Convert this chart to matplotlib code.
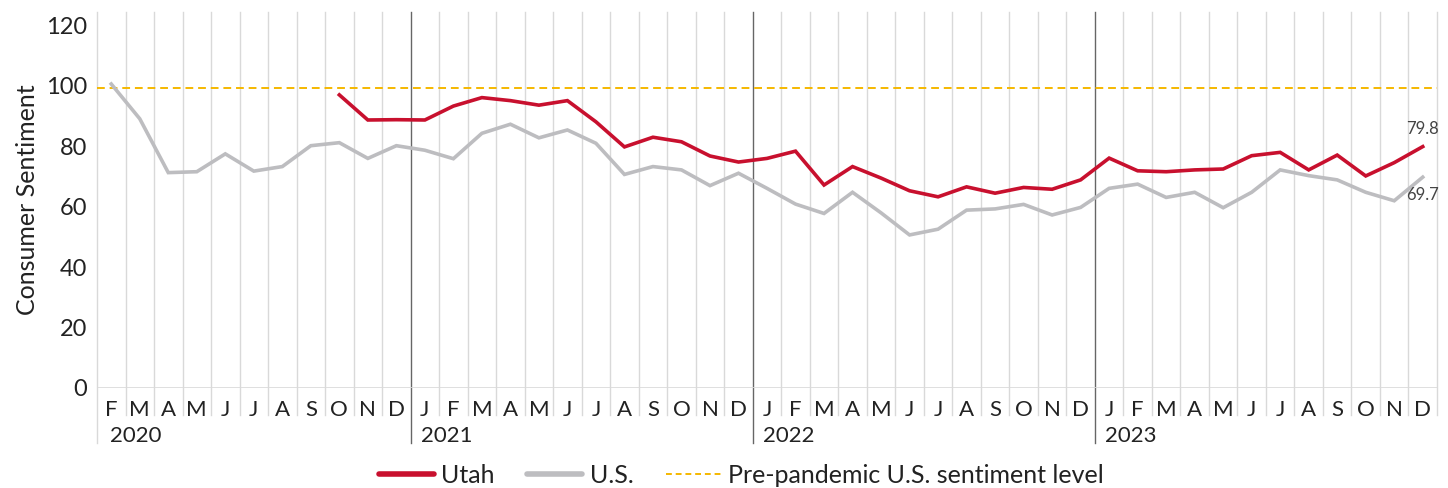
#!/usr/bin/env python3

import matplotlib
matplotlib.use('Agg')
import matplotlib.pyplot as plt
from matplotlib.lines import Line2D
import matplotlib.transforms as mtransforms

plt.rcParams['font.family'] = ['Lato', 'DejaVu Sans']

# Months Feb 2020 .. Dec 2023
months = ['F', 'M', 'A', 'M', 'J', 'J', 'A', 'S', 'O', 'N', 'D'] + \
    ['J', 'F', 'M', 'A', 'M', 'J', 'J', 'A', 'S', 'O', 'N', 'D'] * 3
years = ['2020', '2021', '2022', '2023']
year_start = [0, 11, 23, 35]   # index of first month shown for each year

us = [100.5, 89.0, 71.2, 71.5, 77.4, 71.7, 73.2, 80.1, 81.1, 75.9, 80.1,
      78.6, 75.8, 84.2, 87.2, 82.7, 85.3, 80.9, 70.6, 73.2, 72.1, 66.9, 71.0,
      66.0, 60.8, 57.7, 64.7, 57.9, 50.6, 52.5, 58.8, 59.2, 60.7, 57.2, 59.7,
      66.0, 67.4, 63.0, 64.7, 59.6, 64.7, 72.1, 70.2, 68.8, 64.7, 61.9, 69.7]

# Utah series starts Oct 2020
utah_start = 8
utah = [96.9, 88.6, 88.7,
        88.6, 93.2, 96.0, 95.0, 93.5, 95.0, 88.0, 79.7, 82.9, 81.4, 76.7, 74.7,
        75.9, 78.3, 67.1, 73.2, 69.4, 65.2, 63.2, 66.5, 64.4, 66.3, 65.7, 68.8,
        76.0, 71.8, 71.5, 72.1, 72.4, 76.8, 77.9, 72.1, 77.0, 70.1, 74.5, 79.8]

pre_pandemic = 99.2

red = '#C8102E'
gray = '#BDBDC0'
gold = '#F5B800'

fig = plt.figure(figsize=(14.48, 4.88), dpi=100)
ax = fig.add_axes([97 / 1448, 1 - 388 / 488, 1340 / 1448, 376 / 488])

n = len(months)
x_us = list(range(n))
x_utah = list(range(utah_start, utah_start + len(utah)))

ax.set_xlim(-0.5, n - 0.5)
ax.set_ylim(0, 124.3)

# vertical grid at month boundaries, extending through the label rows
seps = [s - 0.5 for s in year_start[1:]]
for i in range(n + 1):
    b = i - 0.5
    if b in seps:
        ax.axvline(b, ymin=-0.145, ymax=1, color='#666666', lw=1.0,
                   clip_on=False, zorder=1)
    elif i == 0:
        ax.axvline(b, ymin=-0.145, ymax=1, color='#D9D9D9', lw=1.0,
                   clip_on=False, zorder=1)
    else:
        ax.axvline(b, ymin=-0.072, ymax=1, color='#D9D9D9', lw=1.0,
                   clip_on=False, zorder=1)

ax.axhline(0, color='#D9D9D9', lw=1.2, zorder=1)
ax.axhline(pre_pandemic, color=gold, lw=1.4, ls=(0, (4, 2.5)), zorder=2)

ax.plot(x_us, us, color=gray, lw=2.6, zorder=3, solid_joinstyle='miter')
ax.plot(x_utah, utah, color=red, lw=2.6, zorder=4, solid_joinstyle='miter')

ax.text(x_utah[-1], utah[-1] + 3.2, '{:.1f}'.format(utah[-1]), ha='center',
        va='bottom', fontsize=12, color='#444444')
ax.text(x_us[-1], us[-1] - 3.2, '{:.1f}'.format(us[-1]), ha='center',
        va='top', fontsize=12, color='#444444')

for s in ax.spines.values():
    s.set_visible(False)

ax.set_yticks(range(0, 121, 20))
ax.tick_params(axis='y', length=0, pad=7, labelsize=17, labelcolor='#222222')
ax.set_xticks(x_us)
ax.set_xticklabels(months)
ax.tick_params(axis='x', length=0, pad=9, labelsize=16, labelcolor='#222222')
ax.set_ylabel('Consumer Sentiment', fontsize=18, color='#222222', labelpad=5)

trans = mtransforms.blended_transform_factory(ax.transData, ax.transAxes)
for yr, st in zip(years, year_start):
    off = 0.45 if st == 0 else 0.35
    ax.text(st - 0.5 + off, -0.128, yr, transform=trans, ha='left',
            va='center', fontsize=16, color='#222222')

handles = [
    Line2D([], [], color=red, lw=4, solid_capstyle='round'),
    Line2D([], [], color=gray, lw=4, solid_capstyle='round'),
    Line2D([], [], color=gold, lw=1.4, ls=(0, (3, 2))),
]
fig.legend(handles, ['Utah', 'U.S.', 'Pre-pandemic U.S. sentiment level'],
           loc='center', bbox_to_anchor=(0.512, 0.026), ncol=3, frameon=False,
           fontsize=18, handlelength=2.2, handletextpad=0.3, columnspacing=1.3,
           labelcolor='#222222')

fig.savefig('out.png', dpi=100)
